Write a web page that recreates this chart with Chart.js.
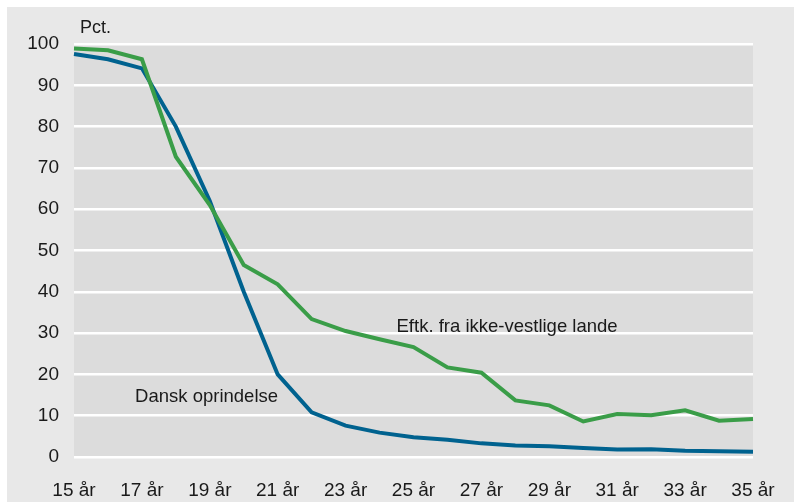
<!DOCTYPE html>
<html>
<head>
<meta charset="utf-8">
<script src="https://cdn.jsdelivr.net/npm/chart.js@4.4.1/dist/chart.umd.min.js"></script>
<style>
  html, body { margin: 0; padding: 0; background: #fff; }
  #wrap { width: 794px; height: 502px; }
</style>
</head>
<body>
<div id="wrap"><canvas id="chart" width="794" height="502"></canvas></div>
<script>
// Alder (x) og andel i pct. (y)
const ages = [15, 16, 17, 18, 19, 20, 21, 22, 23, 24, 25, 26, 27, 28, 29, 30, 31, 32, 33, 34, 35];
const danskOprindelse = [97.6, 96.3, 94.1, 80.0, 62.0, 40.0, 20.0, 10.8, 7.6, 5.9, 4.8, 4.2, 3.3, 2.8, 2.6, 2.2, 1.8, 1.9, 1.5, 1.4, 1.3];
const ikkeVestlige = [98.9, 98.5, 96.3, 72.7, 61.0, 46.5, 41.8, 33.4, 30.5, 28.5, 26.6, 21.7, 20.4, 13.7, 12.5, 8.6, 10.4, 10.1, 11.3, 8.8, 9.2];
const yTicks = [0, 10, 20, 30, 40, 50, 60, 70, 80, 90, 100];

const FONT = '"Liberation Sans", Arial, sans-serif';
const TEXT = "#1a1a1a";

// backgrounds + text annotations
const decor = {
  id: "decor",
  beforeDraw(chart) {
    const { ctx, chartArea: a } = chart;
    ctx.save();
    ctx.fillStyle = "#ffffff";
    ctx.fillRect(0, 0, chart.width, chart.height);
    ctx.fillStyle = "#e8e8e8";
    ctx.fillRect(7, 7, chart.width - 7, chart.height - 7);
    ctx.fillStyle = "#dcdcdc";
    ctx.fillRect(a.left, a.top, a.right - a.left, a.bottom - a.top);
    ctx.restore();
  },
  afterDatasetsDraw(chart) {
    const { ctx, chartArea: a, scales } = chart;
    const x = scales.x, y = scales.y;
    ctx.save();
    ctx.fillStyle = TEXT;
    ctx.textAlign = "left";
    ctx.textBaseline = "alphabetic";
    ctx.font = "18px " + FONT;
    ctx.fillText("Pct.", a.left + 6, a.top - 11);
    ctx.font = "18.5px " + FONT;
    ctx.fillText("Dansk oprindelse", x.getPixelForValue(1.8), y.getPixelForValue(13.4));
    ctx.fillText("Eftk. fra ikke-vestlige lande", x.getPixelForValue(9.5), y.getPixelForValue(30.3));
    ctx.restore();
  }
};

new Chart(document.getElementById("chart"), {
  type: "line",
  data: {
    labels: ages.map(a => a + " år"),
    datasets: [
      {
        label: "Eftk. fra ikke-vestlige lande",
        data: ikkeVestlige,
        borderColor: "#3a9d48",
        borderWidth: 4,
        pointRadius: 0,
        tension: 0,
        fill: false
      },
      {
        label: "Dansk oprindelse",
        data: danskOprindelse,
        borderColor: "#00628f",
        borderWidth: 4,
        pointRadius: 0,
        tension: 0,
        fill: false
      }
    ]
  },
  options: {
    responsive: false,
    animation: false,
    layout: { padding: { top: 44, right: 41, left: 0, bottom: 0 } },
    plugins: {
      legend: { display: false },
      tooltip: { enabled: false }
    },
    scales: {
      x: {
        grid: { display: false, drawTicks: false },
        border: { display: false },
        ticks: {
          autoSkip: false,
          maxRotation: 0,
          padding: 22,
          color: TEXT,
          font: { family: FONT, size: 19 },
          callback: function (v, i) { return i % 2 === 0 ? this.getLabelForValue(v) : ""; }
        },
        afterFit(scale) {
          scale.height = 45;
          scale.paddingLeft = 0;
          scale.paddingRight = 0;
        }
      },
      y: {
        min: 0,
        max: 100,
        afterBuildTicks(scale) { scale.ticks = yTicks.map(v => ({ value: v })); },
        grid: { color: "#ffffff", lineWidth: 2.5, drawTicks: false },
        border: { display: false },
        ticks: {
          padding: 15,
          color: TEXT,
          font: { family: FONT, size: 19 }
        },
        afterFit(scale) { scale.width = 74; }
      }
    }
  },
  plugins: [decor]
});
</script>
</body>
</html>
